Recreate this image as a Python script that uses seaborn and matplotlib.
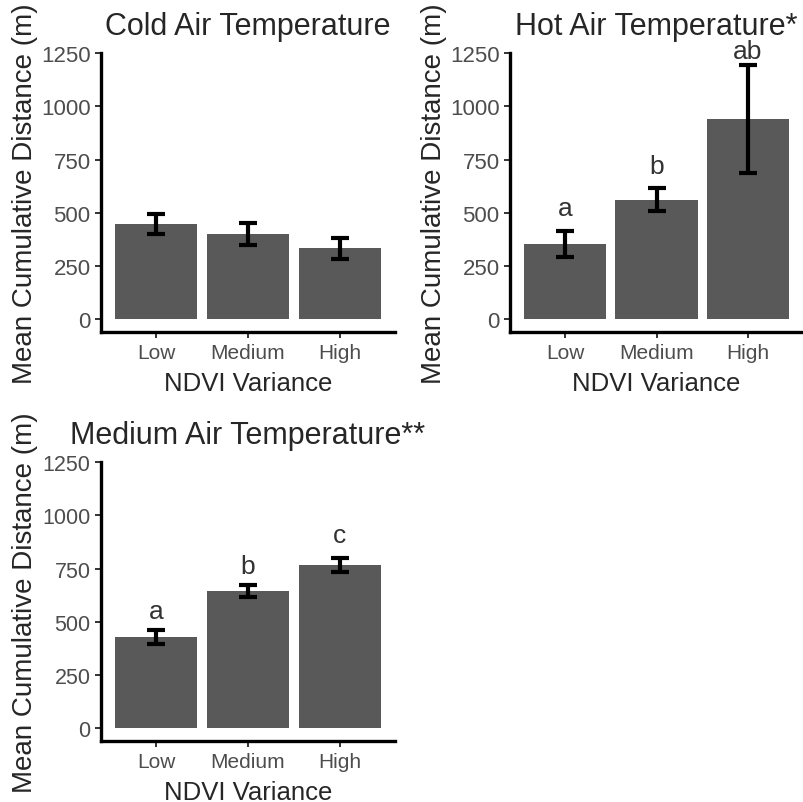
import matplotlib
matplotlib.use("Agg")
import matplotlib.pyplot as plt
import seaborn as sns
import pandas as pd

# NDVI variance classes (x axis)
ndvi_levels = ["Low", "Medium", "High"]

# Mean cumulative distance (m) and standard error per air-temperature class
cold_mean = [447, 400, 332]
cold_se = [49, 52, 50]

hot_mean = [352, 562, 942]
hot_se = [61, 56, 254]

medium_mean = [427, 645, 766]
medium_se = [34, 27, 34]

# Post-hoc group letters and the heights they are written at
hot_letters = ["a", "b", "ab"]
hot_letter_y = [491, 688, 1226]
medium_letters = ["a", "b", "c"]
medium_letter_y = [516, 731, 875]

y_ticks = [0, 250, 500, 750, 1000, 1250]

sns.set_style("ticks")
plt.rcParams["font.family"] = ["Liberation Sans", "DejaVu Sans"]

BAR = "#595959"
GREY_TXT = "#4D4D4D"

W, H = 804, 803
fig = plt.figure(figsize=(W / 100, H / 100), dpi=100)


def px_axes(left, right, top, bottom):
    return fig.add_axes([left / W, 1 - bottom / H, (right - left) / W, (bottom - top) / H])


def panel(ax, title, means, ses, letters=None, letter_y=None, ytick_size=16):
    df = pd.DataFrame({"NDVI Variance": ndvi_levels, "dist": means})
    sns.barplot(data=df, x="NDVI Variance", y="dist", order=ndvi_levels,
                color=BAR, saturation=1, width=0.9, errorbar=None,
                linewidth=0, ax=ax)
    ax.errorbar(x=range(len(means)), y=means, yerr=ses, fmt="none",
                ecolor="black", elinewidth=3, capsize=6.8, capthick=3, zorder=3)
    if letters is not None:
        for i, (lab, yy) in enumerate(zip(letters, letter_y)):
            ax.text(i, yy, lab, ha="center", va="baseline", fontsize=19,
                    color="#333333")
    ax.set_xlim(-0.6, 2.6)
    ax.set_ylim(-62.5, 1250)
    ax.set_yticks(y_ticks)
    ax.set_yticklabels([str(t) for t in y_ticks])
    for s in ["top", "right"]:
        ax.spines[s].set_visible(False)
    for s in ["left", "bottom"]:
        ax.spines[s].set_linewidth(2.4)
        ax.spines[s].set_color("black")
    ax.tick_params(axis="both", length=4.5, width=1.4, color="#333333",
                   labelcolor=GREY_TXT, pad=3.5)
    ax.tick_params(axis="x", labelsize=15)
    ax.tick_params(axis="y", labelsize=ytick_size, pad=3)
    ax.set_title(title, fontsize=22, pad=14, loc="center")
    ax.set_xlabel("NDVI Variance", fontsize=18.5, va="top")
    ax.set_ylabel("Mean Cumulative Distance (m)", fontsize=20)
    ax.xaxis.set_label_coords(0.5, -0.137)
    ax.yaxis.set_label_coords(-0.214, 0.5)
    ax.set_facecolor("white")


ax1 = px_axes(101, 395, 54.3, 333.3)
panel(ax1, "Cold Air Temperature", cold_mean, cold_se)

ax2 = px_axes(510, 803, 54.3, 333.3)
panel(ax2, "Hot Air Temperature*", hot_mean, hot_se, hot_letters, hot_letter_y)

ax3 = px_axes(101, 395, 463.3, 742.3)
panel(ax3, "Medium Air Temperature**", medium_mean, medium_se,
      medium_letters, medium_letter_y, ytick_size=15.5)

fig.savefig("out.png", dpi=100, facecolor="white")
